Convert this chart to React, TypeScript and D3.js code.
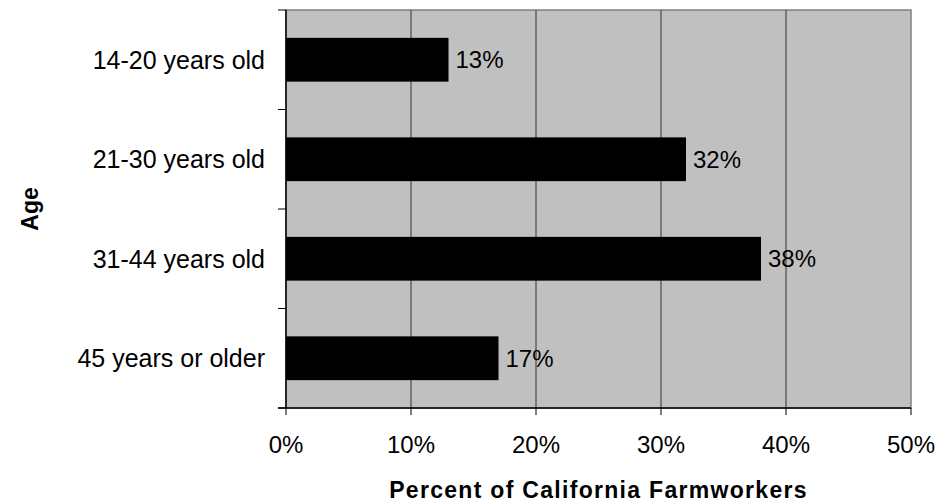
import React, { useRef, useEffect } from "react";
import * as d3 from "d3";

const categories = ["14-20 years old", "21-30 years old", "31-44 years old", "45 years or older"];
const values = [13, 32, 38, 17];
const xTicks = [0, 10, 20, 30, 40, 50];

const App: React.FC = () => {
  const ref = useRef<SVGSVGElement | null>(null);

  useEffect(() => {
    if (!ref.current) return;
    const svg = d3.select(ref.current);
    svg.selectAll("*").remove();

    const width = 938;
    const height = 504;
    const margin = { top: 10, right: 27, bottom: 96, left: 286 };
    const font = "'Liberation Sans', Arial, sans-serif";

    const x = d3
      .scaleLinear()
      .domain([0, 50])
      .range([margin.left, width - margin.right]);

    const y = d3
      .scaleBand()
      .domain(categories)
      .range([margin.top, height - margin.bottom])
      .paddingInner(0.56)
      .paddingOuter(0.28);

    const yEdges = d3
      .scaleLinear()
      .domain([0, categories.length])
      .range([margin.top, height - margin.bottom]);

    // plot background
    svg
      .append("rect")
      .attr("x", margin.left)
      .attr("y", margin.top)
      .attr("width", x(50) - x(0))
      .attr("height", height - margin.bottom - margin.top)
      .attr("fill", "#c0c0c0")
      .attr("stroke", "#808080")
      .attr("stroke-width", 1.5);

    // gridlines
    svg
      .append("g")
      .selectAll("line")
      .data(xTicks.slice(1, -1))
      .enter()
      .append("line")
      .attr("x1", (d) => x(d))
      .attr("x2", (d) => x(d))
      .attr("y1", margin.top)
      .attr("y2", height - margin.bottom)
      .attr("stroke", "#333")
      .attr("stroke-width", 1);

    // bars
    svg
      .append("g")
      .selectAll("rect")
      .data(categories)
      .enter()
      .append("rect")
      .attr("x", x(0))
      .attr("y", (d) => y(d) || 0)
      .attr("width", (d, i) => x(values[i]) - x(0))
      .attr("height", y.bandwidth())
      .attr("fill", "#000");

    // value labels
    svg
      .append("g")
      .selectAll("text")
      .data(categories)
      .enter()
      .append("text")
      .attr("x", (d, i) => x(values[i]) + 7)
      .attr("y", (d) => (y(d) || 0) + y.bandwidth() / 2)
      .attr("dy", "0.35em")
      .attr("font-family", font)
      .attr("font-size", 24)
      .text((d, i) => `${values[i]}%`);

    // left axis
    const left = svg.append("g");
    left
      .append("line")
      .attr("x1", margin.left)
      .attr("x2", margin.left)
      .attr("y1", margin.top)
      .attr("y2", height - margin.bottom)
      .attr("stroke", "#000")
      .attr("stroke-width", 1.5);
    left
      .selectAll("line.tick")
      .data(d3.range(categories.length + 1))
      .enter()
      .append("line")
      .attr("class", "tick")
      .attr("x1", margin.left - 8)
      .attr("x2", margin.left)
      .attr("y1", (d) => yEdges(d))
      .attr("y2", (d) => yEdges(d))
      .attr("stroke", "#000");
    left
      .selectAll("text")
      .data(categories)
      .enter()
      .append("text")
      .attr("x", margin.left - 21)
      .attr("y", (d) => (y(d) || 0) + y.bandwidth() / 2)
      .attr("dy", "0.35em")
      .attr("text-anchor", "end")
      .attr("font-family", font)
      .attr("font-size", 25)
      .text((d) => d);

    // bottom axis
    const bottom = svg.append("g");
    bottom
      .append("line")
      .attr("x1", x(0) - 8)
      .attr("x2", x(50))
      .attr("y1", height - margin.bottom)
      .attr("y2", height - margin.bottom)
      .attr("stroke", "#000")
      .attr("stroke-width", 1.5);
    bottom
      .selectAll("line.tick")
      .data(xTicks)
      .enter()
      .append("line")
      .attr("class", "tick")
      .attr("x1", (d) => x(d))
      .attr("x2", (d) => x(d))
      .attr("y1", height - margin.bottom)
      .attr("y2", height - margin.bottom + 7)
      .attr("stroke", "#000");
    bottom
      .selectAll("text")
      .data(xTicks)
      .enter()
      .append("text")
      .attr("x", (d) => x(d))
      .attr("y", 453)
      .attr("text-anchor", "middle")
      .attr("font-family", font)
      .attr("font-size", 24)
      .text((d) => `${d}%`);

    // axis titles
    svg
      .append("text")
      .attr("x", (x(0) + x(50)) / 2)
      .attr("y", 498)
      .attr("text-anchor", "middle")
      .attr("font-family", font)
      .attr("font-size", 23)
      .attr("font-weight", "bold")
      .attr("letter-spacing", 1.3)
      .text("Percent of California Farmworkers");

    svg
      .append("text")
      .attr("transform", `translate(38,${(margin.top + height - margin.bottom) / 2}) rotate(-90)`)
      .attr("text-anchor", "middle")
      .attr("font-family", font)
      .attr("font-size", 23)
      .attr("font-weight", "bold")
      .text("Age");
  }, []);

  return (
    <svg
      ref={ref}
      width={938}
      height={504}
      style={{ position: "absolute", left: 0, top: 0 }}
    />
  );
};

export default App;
